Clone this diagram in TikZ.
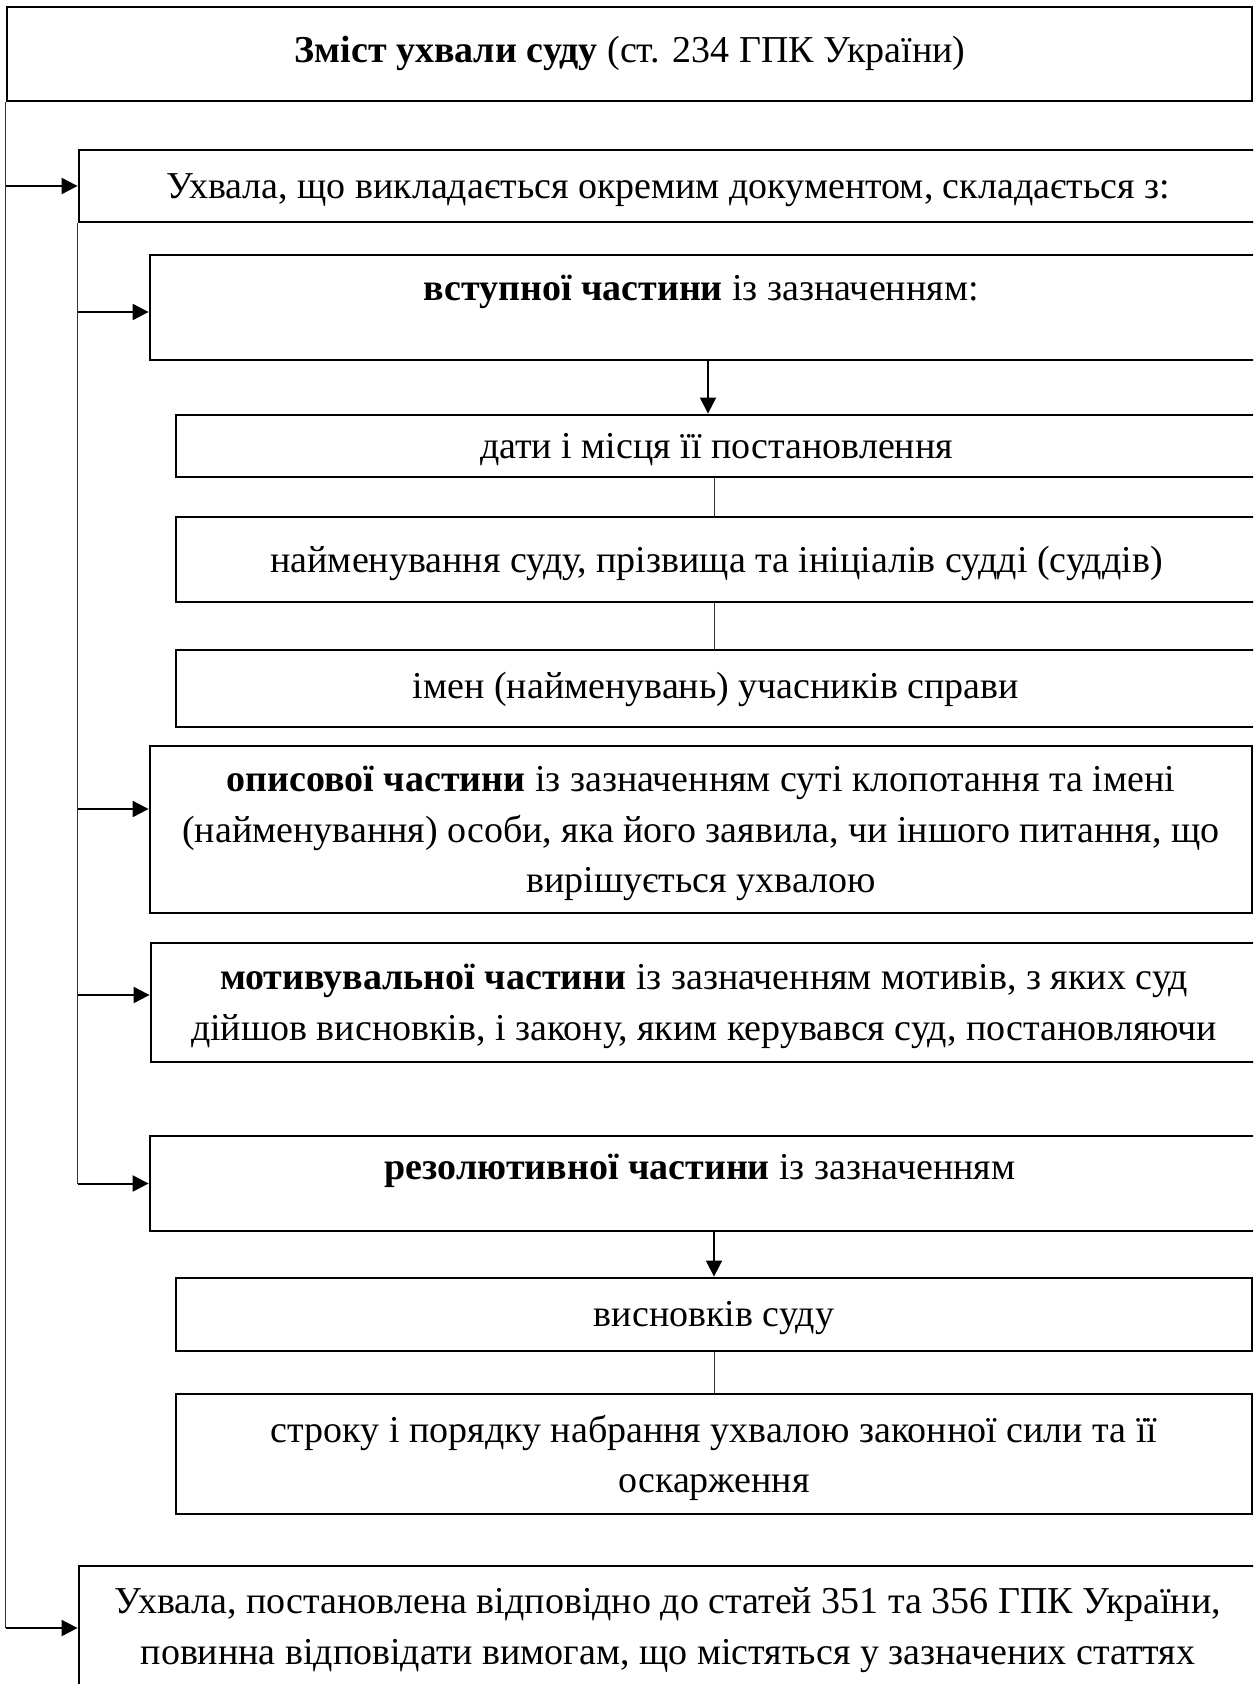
\documentclass[tikz,border=0pt]{standalone}
\usepackage{fontspec}
\setmainfont{Liberation Serif}
\usetikzlibrary{fit,arrows.meta}
\begin{document}
\begin{tikzpicture}[x=0.5pt,y=-0.5pt,
  box/.style={draw,line width=1.4pt,inner sep=0pt},
  txt/.style={inner sep=0pt,align=center,yshift=-2pt,font=\fontsize{19}{25.25}\selectfont},
  arr/.style={line width=1pt,-{Triangle[length=8pt,width=8pt]}},
  varr/.style={line width=0.8pt,-{Triangle[length=8pt,width=8pt]}},
  trunk/.style={line width=0.7pt,black!80},
  link/.style={line width=0.5pt,black!80}]
\useasboundingbox (0,0) rectangle (1253,1684);
\fill[white] (0,0) rectangle (1253,1684);
\clip (0,0) rectangle (1253,1684);

% boxes
\node[box,fit={(7,7)(1252,101)}] (title) {};
\node[txt] (titlet) at (630,49) {\textbf{Зміст ухвали суду} (ст. 234 ГПК України)};

\node[box,fit={(79,150)(1257,222)}] (b1) {};
\node[txt] (b1t) at (b1.center) {Ухвала, що викладається окремим документом, складається з:};

\node[box,fit={(150,255)(1257,360)}] (b2) {};
\node[txt] (b2t) at (701,288) {\textbf{вступної частини} із зазначенням:};

\node[box,fit={(176,415)(1257,477)}] (d1) {};
\node[txt] (d1t) at (d1.center) {дати і місця її постановлення};
\node[box,fit={(176,517)(1257,602)}] (d2) {};
\node[txt] (d2t) at (d2.center) {найменування суду, прізвища та ініціалів судді (суддів)};
\node[box,fit={(176,650)(1257,727)}] (d3) {};
\node[txt] (d3t) at (716,685) {імен (найменувань) учасників справи};

\node[box,fit={(150,746)(1252,913)}] (b3) {};
\node[txt] (b3t) at (b3.center) {\textbf{описової частини} із зазначенням суті клопотання та імені\\(найменування) особи, яка його заявила, чи іншого питання, що\\вирішується ухвалою};

\node[box,fit={(151,943)(1257,1062)}] (b4) {};
\node[txt] (b4t) at (b4.center) {\textbf{мотивувальної частини} із зазначенням мотивів, з яких суд\\дійшов висновків, і закону, яким керувався суд, постановляючи};

\node[box,fit={(150,1136)(1257,1231)}] (b5) {};
\node[txt] (b5t) at (700,1167) {\textbf{резолютивної частини} із зазначенням};

\node[box,fit={(176,1278)(1252,1351)}] (r1) {};
\node[txt] (r1t) at (r1.center) {висновків суду};
\node[box,fit={(176,1394)(1252,1514)}] (r2) {};
\node[txt] (r2t) at (r2.center) {строку і порядку набрання ухвалою законної сили та її\\оскарження};

\node[box,fit={(79,1566)(1257,1690)}] (last) {};
\node[txt] (lastt) at (668,1626) {Ухвала, постановлена відповідно до статей 351 та 356 ГПК України,\\повинна відповідати вимогам, що містяться у зазначених статтях};

% outer trunk
\draw[trunk] (title.south west) -- (title.south west |- last.west);
\draw[arr] (title.south west |- b1.west) -- (b1.west);
\draw[arr] (title.south west |- last.west) -- (last.west);

% inner trunk
\coordinate (j2) at (80,312);
\coordinate (j3) at (80,809);
\coordinate (j4) at (80,995);
\draw[trunk] (b1.south west) -- (b1.south west |- b5.west);
\draw[arr] (b1.south west |- j2) -- (j2 -| b2.west);
\draw[arr] (b1.south west |- j3) -- (j3 -| b3.west);
\draw[arr] (b1.south west |- j4) -- (j4 -| b4.west);
\draw[arr] (b1.south west |- b5.west) -- (b5.west);

% middle connectors
\coordinate (ax) at (708,0);
\coordinate (lx) at (714,0);
\draw[varr] (b2.south -| ax) -- (d1.north -| ax);
\draw[link] (d1.south -| lx) -- (d2.north -| lx);
\draw[link] (d2.south -| lx) -- (d3.north -| lx);
\draw[varr] (b5.south -| lx) -- (r1.north -| lx);
\draw[link] (r1.south -| lx) -- (r2.north -| lx);
\end{tikzpicture}
\end{document}
